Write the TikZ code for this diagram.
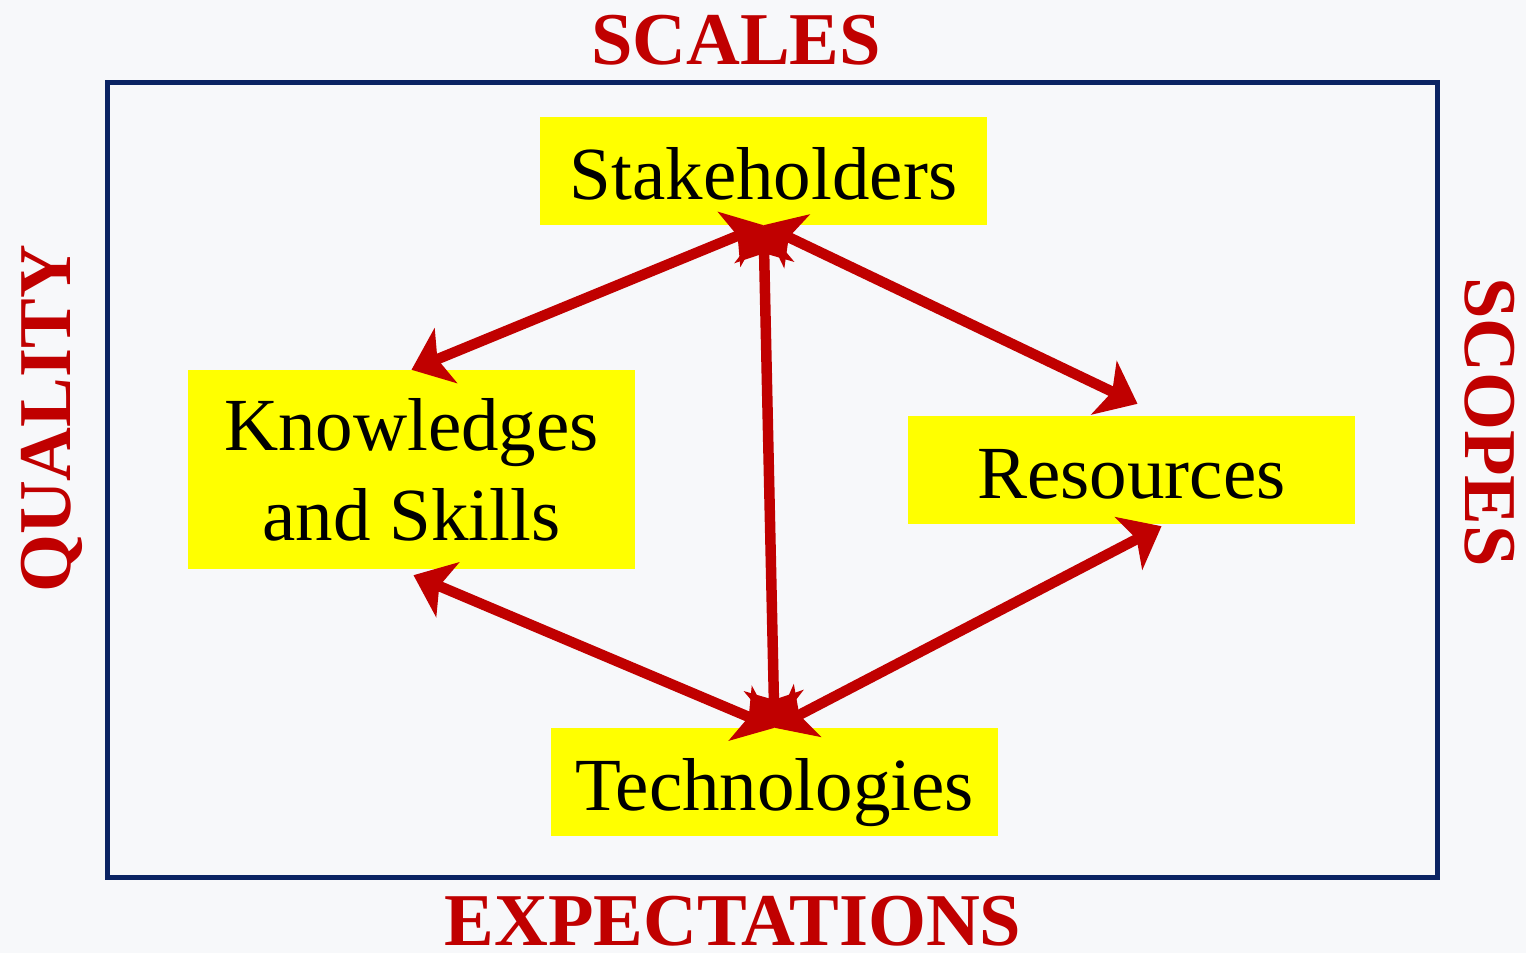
\documentclass[tikz,border=0pt]{standalone}
\usepackage{fontspec}
\setmainfont{Liberation Serif}
\usetikzlibrary{arrows.meta}
\definecolor{bgc}{HTML}{F7F8FA}
\definecolor{framec}{HTML}{0B2463}
\definecolor{redc}{HTML}{C00000}
\definecolor{boxc}{HTML}{FFFF00}
\tikzset{
  box/.style={fill=boxc, inner sep=0pt, align=center, font=\fontsize{75}{90}\selectfont, minimum width=447pt, minimum height=108pt},
  oneline/.style={text height=57pt, text depth=0pt},
  side/.style={text=redc, inner sep=0pt, font=\fontsize{74.5}{80}\selectfont\bfseries, anchor=base},
  link/.style={draw=redc, line width=10.5pt, {Stealth[length=37pt,width=59pt,inset=9pt]}-{Stealth[length=37pt,width=59pt,inset=9pt]}}
}
\begin{document}
\begin{tikzpicture}[x=1pt,y=-1pt]
\fill[bgc] (0,0) rectangle (1526,953);
\useasboundingbox (0,0) rectangle (1526,953);
\draw[framec, line width=5pt] (107,82) rectangle (1437,877);
\node[box, oneline] (stake) at (763.5,171) {Stakeholders};
\node[box, minimum height=199pt] (know) at (411.5,469.5) {\rule{0pt}{4pt}Knowledges\\and Skills};
\node[box, oneline] (res) at (1131.5,470) {Resources};
\node[box, oneline] (tech) at (774.5,782) {Technologies};
\node[side] (scales) at (736,64) {SCALES};
\node[side] (expect) at (733,945) {EXPECTATIONS};
\node[side, rotate=90] (quality) at (70,419) {QUALITY};
\node[side, rotate=-90] (scopes) at (1465,422) {SCOPES};
\coordinate (resT) at ([shift={(6pt,12pt)}]res.north);
\coordinate (resB) at ([shift={(30pt,-2pt)}]res.south);
\coordinate (knowB) at ([shift={(2pt,-6pt)}]know.south);
\draw[link] (stake.south) -- (know.north);
\draw[link] (stake.south) -- (resT);
\draw[link] (stake.south) -- (tech.north);
\draw[link] (tech.north) -- (knowB);
\draw[link] (tech.north) -- (resB);
\end{tikzpicture}
\end{document}
